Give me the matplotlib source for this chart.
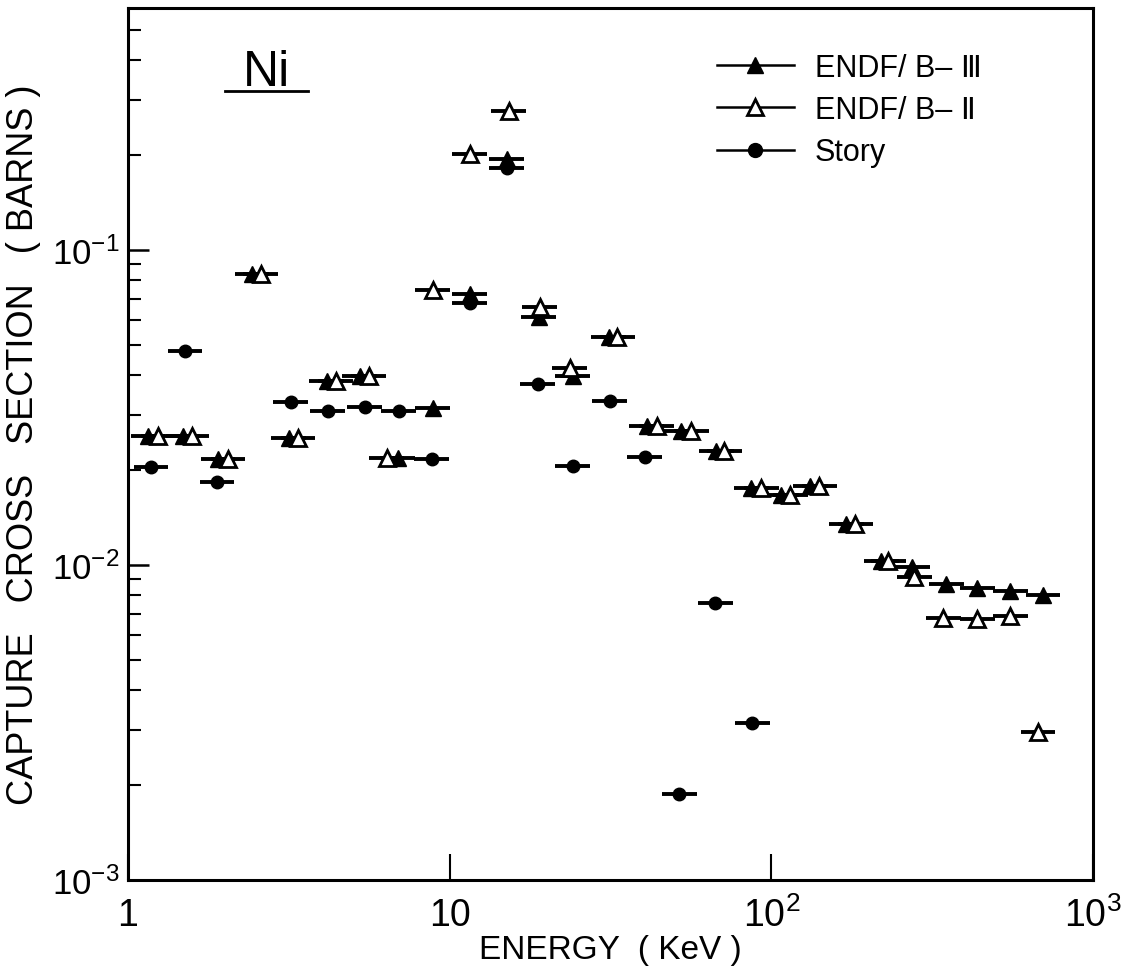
import numpy as np
import matplotlib.pyplot as plt
from matplotlib.lines import Line2D
from matplotlib.ticker import LogLocator, NullLocator

plt.rcParams['font.family'] = ['Liberation Sans', 'DejaVu Sans']

# ENDF/B-III (filled triangles)
e_b3 = [1.154, 1.482, 1.903, 2.427, 3.162, 4.150, 5.254, 6.896, 8.856, 11.54,
        15.03, 18.89, 24.10, 31.18, 40.91, 52.55, 67.47, 86.70, 107.4, 132.2,
        171.0, 219.6, 274.2, 349.5, 436.3, 552.5, 699.4]
xs_b3 = [0.0257, 0.0257, 0.0217, 0.0839, 0.0253, 0.0384, 0.0398, 0.0219, 0.0315, 0.0725,
         0.1945, 0.0613, 0.0398, 0.0530, 0.0276, 0.0266, 0.0230, 0.0176, 0.0167, 0.0178,
         0.0135, 0.0103, 0.00986, 0.00871, 0.00845, 0.00827, 0.00803]

# ENDF/B-II (open triangles)
e_b2 = [1.239, 1.580, 2.045, 2.588, 3.373, 4.426, 5.604, 6.373, 8.856, 11.54,
        15.25, 19.03, 23.59, 33.24, 43.96, 56.45, 71.45, 93.09, 114.6, 141.0,
        182.4, 230.9, 278.1, 342.1, 436.3, 552.5, 674.9]
xs_b2 = [0.0257, 0.0257, 0.0217, 0.0839, 0.0253, 0.0384, 0.0398, 0.0219, 0.0746, 0.2017,
         0.2763, 0.0659, 0.0422, 0.0530, 0.0276, 0.0266, 0.0230, 0.0176, 0.0167, 0.0178,
         0.0135, 0.0103, 0.00916, 0.00679, 0.00674, 0.00689, 0.00295]

# Story (filled circles)
e_story = [1.179, 1.503, 1.889, 3.208, 4.180, 5.445, 6.945, 8.793, 11.54, 15.03,
           18.76, 24.10, 31.40, 40.33, 51.81, 66.99, 87.32]
xs_story = [0.0205, 0.0478, 0.0183, 0.0329, 0.0308, 0.0317, 0.0308, 0.0217, 0.0679, 0.1821,
            0.0376, 0.0206, 0.0332, 0.0220, 0.00188, 0.00758, 0.00315]

fig = plt.figure(figsize=(11.28, 9.70), dpi=100)
ax = fig.add_axes([0.1135, 0.0918, 0.8555, 0.899])
ax.set_xscale('log')
ax.set_yscale('log')
ax.set_xlim(1, 1000)
ax.set_ylim(1e-3, 0.586)

half = 10 ** 0.054  # half bin width in log space


def draw_bins(e, y, **kw):
    e = np.array(e)
    ax.errorbar(e, y, xerr=[e - e / half, e * half - e], fmt='none',
                ecolor='black', elinewidth=2.8, capsize=0, zorder=2)
    ax.plot(e, y, linestyle='none', zorder=3, **kw)


draw_bins(e_b3, xs_b3, marker='^', color='black', ms=11)
draw_bins(e_b2, xs_b2, marker='^', mfc='white', mec='black', mew=2, ms=11)
draw_bins(e_story, xs_story, marker='o', color='black', ms=9)

# axes styling
for s in ax.spines.values():
    s.set_linewidth(2.2)

ax.set_xticks([1, 10, 100, 1000])
ax.set_xticklabels(['1', '10', r'$\mathregular{10^2}$', r'$\mathregular{10^3}$'])
ax.xaxis.set_minor_locator(NullLocator())
ax.set_yticks([1e-3, 1e-2, 1e-1])
ax.set_yticklabels([r'$\mathregular{10^{-3}}$', r'$\mathregular{10^{-2}}$',
                    r'$\mathregular{10^{-1}}$'])
ax.yaxis.set_minor_locator(LogLocator(base=10, subs=np.arange(2, 10)))
ax.yaxis.set_minor_formatter(plt.NullFormatter())

ax.tick_params(axis='x', which='major', direction='in', length=19, width=1.5,
               labelsize=27, pad=12, top=False)
ax.tick_params(axis='y', which='major', direction='in', length=15, width=1.8,
               labelsize=25, pad=6, right=False)
ax.tick_params(axis='y', which='minor', direction='in', length=9, width=1.5, right=False)

ax.set_xlabel('ENERGY  ( KeV )', fontsize=24, labelpad=0)
ax.set_ylabel('CAPTURE   CROSS   SECTION   ( BARNS )', fontsize=26, labelpad=8)

# "Ni" label with underline
ax.text(0.144, 0.926, 'Ni', transform=ax.transAxes, fontsize=36,
        ha='center', va='center')
ax.plot([0.1005, 0.1865], [0.905, 0.905], transform=ax.transAxes,
        color='black', lw=2)

handles = [
    Line2D([], [], color='black', lw=1.8, marker='^', ms=11),
    Line2D([], [], color='black', lw=1.8, marker='^', mfc='white', mec='black', mew=2, ms=11),
    Line2D([], [], color='black', lw=1.8, marker='o', ms=10),
]
labels = ['ENDF/ B\u2013 \u2162', 'ENDF/ B\u2013 \u2161', 'Story']
ax.legend(handles, labels, loc='upper left', bbox_to_anchor=(0.582, 0.98),
          frameon=False, fontsize=22, handlelength=2.5, handletextpad=0.7,
          labelspacing=0.4)

fig.savefig('out.png', dpi=100)
